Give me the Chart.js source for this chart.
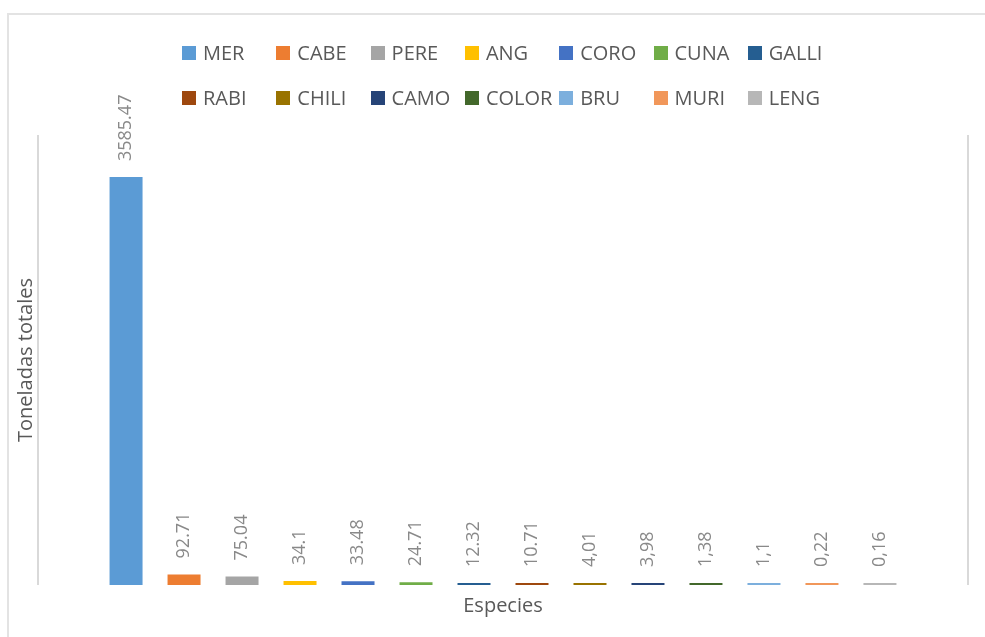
<!DOCTYPE html>
<html>
<head>
<meta charset="utf-8">
<script src="https://cdn.jsdelivr.net/npm/chart.js@4/dist/chart.umd.min.js"></script>
<style>
  html, body { margin: 0; padding: 0; background: #fff; }
  #wrap { position: relative; width: 985px; height: 637px; overflow: hidden; font-family: "Open Sans", sans-serif; }
  #frame { position: absolute; left: 7px; top: 13px; width: 1000px; height: 700px; border: 2px solid #e3e3e3; box-sizing: border-box; }
  #chart { position: absolute; left: 0; top: 0; }
  #legend { position: absolute; left: 182px; top: 0; }
  .item { position: absolute; display: flex; align-items: center; font-size: 20px; color: #595959; white-space: nowrap; }
  .box { width: 14px; height: 14px; margin-right: 7px; }
</style>
</head>
<body>
<div id="wrap">
  <div id="frame"></div>
  <canvas id="chart" width="985" height="637"></canvas>
  <div id="legend"></div>
</div>
<script>
"use strict"

// Species and tonnage
const species = ['MER', 'CABE', 'PERE', 'ANG', 'CORO', 'CUNA', 'GALLI', 'RABI', 'CHILI', 'CAMO', 'COLOR', 'BRU', 'MURI', 'LENG'];
const tonnes = [3585.47, 92.71, 75.04, 34.1, 33.48, 24.71, 12.32, 10.71, 4.01, 3.98, 1.38, 1.1, 0.22, 0.16];
// labels as printed on the original chart
const valueLabels = ['3585.47', '92.71', '75.04', '34.1', '33.48', '24.71', '12.32', '10.71', '4,01', '3,98', '1,38', '1,1', '0,22', '0,16'];
const colors = ['#5B9BD5', '#ED7D31', '#A5A5A5', '#FFC000', '#4472C4', '#70AD47', '#255E91',
  '#9E480E', '#997300', '#264478', '#43682B', '#7CAFDD', '#F1975A', '#B7B7B7'];

// rotated value labels above each bar
const barLabels = {
  id: 'barLabels',
  afterDatasetsDraw(chart) {
    const ctx = chart.ctx;
    ctx.save();
    ctx.font = '18px "Open Sans"';
    ctx.fillStyle = '#898989';
    ctx.textAlign = 'left';
    ctx.textBaseline = 'middle';
    chart.data.datasets.forEach((ds, i) => {
      const bar = chart.getDatasetMeta(i).data[0];
      ctx.save();
      ctx.translate(bar.x, bar.y - 16);
      ctx.rotate(-Math.PI / 2);
      ctx.fillText(valueLabels[i], 0, 0);
      ctx.restore();
    });
    ctx.restore();
  }
};

const ctxC = document.getElementById('chart').getContext('2d');
const chart = new Chart(ctxC, {
  type: 'bar',
  data: {
    labels: [''],
    datasets: species.map((name, i) => ({
      label: name,
      data: [tonnes[i]],
      backgroundColor: colors[i],
      minBarLength: 2,
      categoryPercentage: 0.873,
      barPercentage: 0.569
    }))
  },
  options: {
    responsive: false,
    animation: false,
    layout: { padding: { left: 10, right: 17, top: 135, bottom: 19 } },
    plugins: {
      legend: { display: false },
      tooltip: { enabled: false }
    },
    scales: {
      x: {
        ticks: { display: false },
        border: { display: false },
        grid: { color: '#d9d9d9', lineWidth: 2, drawTicks: false, offset: true },
        title: {
          display: true, text: 'Especies', color: '#595959',
          font: { family: 'Open Sans', size: 20 }, padding: { top: 9, bottom: 0 }
        }
      },
      y: {
        min: 0,
        max: 3955,
        ticks: { display: false },
        border: { display: false },
        grid: { display: false, drawTicks: false },
        title: {
          display: true, text: 'Toneladas totales', color: '#595959',
          font: { family: 'Open Sans', size: 20 }, padding: { top: 4, bottom: 0 }
        }
      }
    }
  },
  plugins: [barLabels]
});

// legend: two rows of seven fixed-width columns
const legend = document.getElementById('legend');
species.forEach((name, i) => {
  const el = document.createElement('div');
  el.className = 'item';
  el.style.left = (i % 7) * 94.3 + 'px';
  el.style.top = (i < 7 ? 52.5 : 97.5) - 14 + 'px';
  el.style.height = '28px';
  el.innerHTML = `<span class="box" style="background:${colors[i]}"></span>${name}`;
  legend.appendChild(el);
});
</script>
</body>
</html>
